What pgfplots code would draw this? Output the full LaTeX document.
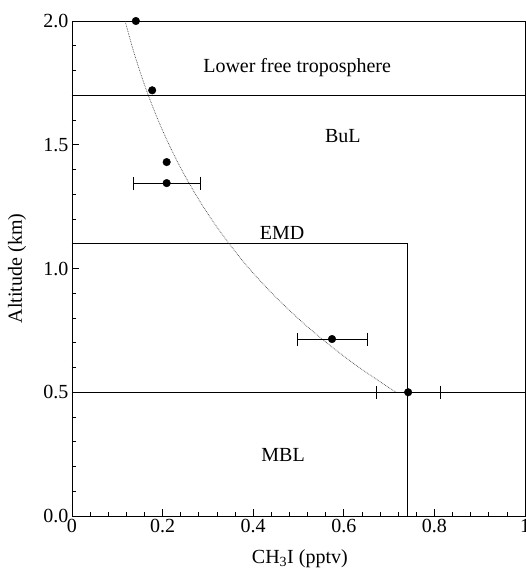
\documentclass[border=0pt]{standalone}
\usepackage{fontspec}
\setmainfont{Liberation Serif}
\usepackage{pgfplots}
\pgfplotsset{compat=1.18}
\usetikzlibrary{calc}
\newcommand{\fs}{\fontsize{20}{24}\selectfont}
\begin{document}
\begin{tikzpicture}
\begin{axis}[
  scale only axis, width=453pt, height=495pt,
  xmin=0, xmax=1, ymin=0, ymax=2,
  xtick={0,0.2,0.4,0.6,0.8,1}, xticklabels={0,0.2,0.4,0.6,0.8,1},
  ytick={0,0.5,1,1.5,2}, yticklabels={0.0,0.5,1.0,1.5,2.0},
  minor x tick num=4, minor y tick num=4,
  tick align=inside, xtick pos=left, ytick pos=left,
  major tick length=7pt, minor tick length=4pt,
  tick style={black, line width=0.7pt},
  axis line style={line width=0.8pt},
  tick label style={font=\fs},
  label style={font=\fs},
  xlabel={CH\textsubscript{3}I (pptv)}, ylabel={Altitude (km)},
  xlabel style={at={(axis description cs:0.503,-0.086)}, anchor=center},
  ylabel style={at={(axis description cs:-0.121,0.5)}, anchor=center},
  clip=false,
]
\coordinate (sw) at (rel axis cs:0,0);
\coordinate (ne) at (rel axis cs:1,1);
\addplot[black, line width=0.8pt] coordinates {(0,1.7) (1,1.7)};
\addplot[black, line width=0.8pt] coordinates {(0,0.5) (1,0.5)};
\addplot[black, line width=0.8pt] coordinates {(0,1.1) (0.74,1.1) (0.74,0)};
\addplot[black!75, line width=0.7pt, densely dotted, smooth] coordinates {
(0.715,0.5) (0.634,0.6) (0.562,0.7) (0.498,0.8) (0.4415,0.9) (0.391,1.0)
(0.347,1.1) (0.3076,1.2) (0.2727,1.3) (0.2417,1.4) (0.2143,1.5) (0.190,1.6)
(0.1684,1.7) (0.1493,1.8) (0.1323,1.9) (0.1173,2.0)};
\addplot[black, only marks, mark=*, mark size=3.8pt] coordinates {
  (0.141,2.0) (0.177,1.72) (0.209,1.43)};
\addplot[black, only marks, mark=*, mark size=3.8pt,
  error bars/.cd, x dir=both, x explicit,
  error bar style={line width=0.8pt},
  error mark options={rotate=90, mark size=6.5pt, line width=0.8pt}]
  coordinates {
  (0.209,1.345) +- (0.074,0)
  (0.574,0.715) +- (0.077,0)
  (0.742,0.5) +- (0.071,0)
  };
\node[font=\fs] at (axis cs:0.497,1.81) {Lower free troposphere};
\node[font=\fs] at (axis cs:0.598,1.535) {BuL};
\node[font=\fs] at (axis cs:0.464,1.143) {EMD};
\node[font=\fs] at (axis cs:0.466,0.246) {MBL};
\end{axis}
\pgfresetboundingbox
\path ($(sw)+(-72pt,-54pt)$) rectangle ($(ne)+(1pt,21pt)$);
\end{tikzpicture}
\end{document}
